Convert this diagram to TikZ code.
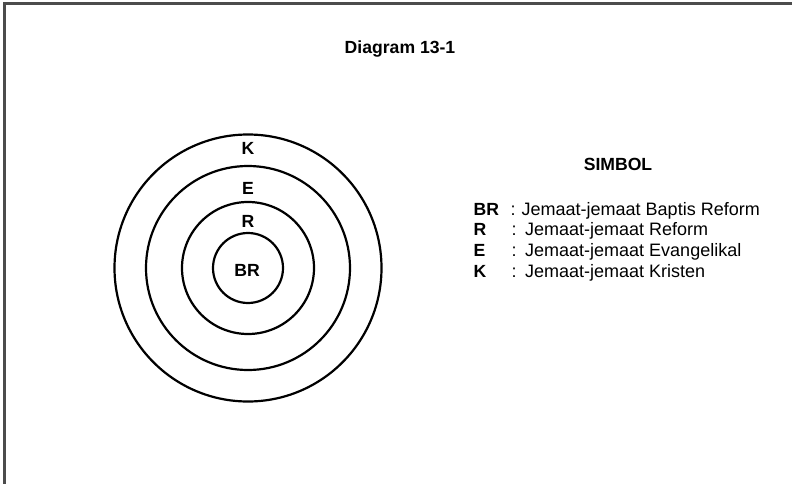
\documentclass[tikz,border=0pt]{standalone}
\usepackage{fontspec}
\setmainfont{Liberation Sans}
\begin{document}
\begin{tikzpicture}[x=1pt,y=-1pt,
  ring/.style={circle,draw=black,line width=2.2pt,inner sep=0pt,minimum size=#1},
  lbl/.style={font=\fontsize{17.6}{21}\selectfont\bfseries,anchor=base,inner sep=0pt},
  key/.style={font=\fontsize{17.6}{21}\selectfont\bfseries,anchor=base west,inner sep=0pt},
  txt/.style={font=\fontsize{18}{21}\selectfont,anchor=base west,inner sep=0pt}]
  \useasboundingbox (0,0) rectangle (792,484);
  % page frame (top and left edges)
  \draw[line width=2.2pt,black!70] (4.5,484) -- (4.5,3.5) -- (792,3.5);

  % title
  \node[lbl] (title) at (400,54) {Diagram 13-1};

  % concentric rings
  \node[ring=267pt] (ck) at (248,268) {};
  \node[ring=204pt] (ce) at (248,268) {};
  \node[ring=132pt] (cr) at (248,268) {};
  \node[ring=70pt]  (cbr) at (248,268) {};

  \node[lbl] (lk) at (248,154) {K};
  \node[lbl] (le) at (248,194) {E};
  \node[lbl] (lr) at (248,227) {R};
  \node[lbl] (lbr) at (247,276.5) {BR};

  % legend
  \node[lbl] (simbol) at (618,170) {SIMBOL};
  \node[key] (kbr) at (473.5,215) {BR};
  \node[key] (kr)  at (473.5,235.7) {R};
  \node[key] (ke)  at (473.5,256.3) {E};
  \node[key] (kk)  at (473.5,277) {K};
  \node[txt] (cbr) at (510.5,215) {:};
  \node[txt] (cr)  at (511.5,235.7) {:};
  \node[txt] (ce)  at (511.5,256.3) {:};
  \node[txt] (ck)  at (511.5,277) {:};
  \node[txt] (tbr) at (521.5,215) {Jemaat-jemaat Baptis Reform};
  \node[txt] (tr)  at (525,235.7) {Jemaat-jemaat Reform};
  \node[txt] (te)  at (525,256.3) {Jemaat-jemaat Evangelikal};
  \node[txt] (tk)  at (525,277) {Jemaat-jemaat Kristen};
\end{tikzpicture}
\end{document}
